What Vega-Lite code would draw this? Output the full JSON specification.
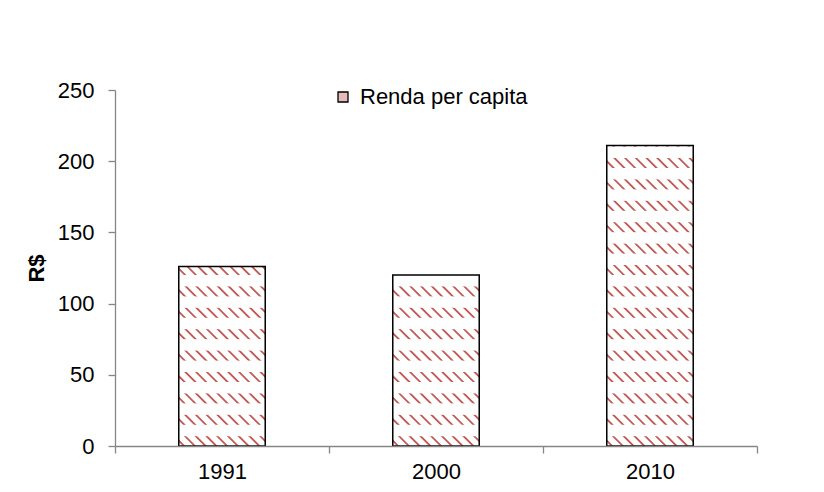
{
  "$schema": "https://vega.github.io/schema/vega-lite/v6.json",
  "width": 642,
  "height": 356,
  "autosize": {"type": "none"},
  "padding": {"left": 115, "top": 90, "right": 67, "bottom": 46},
  "background": "#ffffff",
  "config": {
    "view": {"stroke": null},
    "font": "Liberation Sans"
  },
  "data": {
    "values": [
      {"ano": "1991", "renda": 126},
      {"ano": "2000", "renda": 120},
      {"ano": "2010", "renda": 211}
    ]
  },
  "encoding": {
    "x": {
      "field": "ano",
      "type": "nominal",
      "sort": null,
      "scale": {"paddingInner": 0, "paddingOuter": 0},
      "axis": {
        "title": null,
        "labelAngle": 0,
        "tickBand": "extent",
        "labelFont": "Liberation Sans",
        "labelFontSize": 22,
        "labelColor": "#000000",
        "labelPadding": 8,
        "tickSize": 7,
        "tickColor": "#868686",
        "domainColor": "#868686",
        "tickWidth": 1.3,
        "domainWidth": 1.3,
        "zindex": 1
      }
    }
  },
  "layer": [
    {
      "mark": {"type": "bar", "width": {"band": 0.404}, "stroke": null},
      "encoding": {
        "y": {
          "field": "renda",
          "type": "quantitative",
          "scale": {"domain": [0, 250], "nice": false},
          "axis": {
            "title": "R$",
            "values": [0, 50, 100, 150, 200, 250],
            "grid": false,
            "labelFont": "Liberation Sans",
            "labelFontSize": 22,
            "labelColor": "#000000",
            "labelPadding": 14,
            "tickSize": 7,
            "tickColor": "#868686",
            "domainColor": "#868686",
            "tickWidth": 1.3,
            "domainWidth": 1.3,
            "titleFont": "Liberation Sans",
            "titleFontSize": 22,
            "titleFontWeight": "bold",
            "titleColor": "#000000",
            "titlePadding": 9,
            "zindex": 1
          }
        },
        "fill": {
          "datum": "Renda per capita",
          "type": "nominal",
          "scale": {"range": ["#e6bcbb"]},
          "legend": {
            "title": null,
            "orient": "none",
            "legendX": 217,
            "legendY": -4,
            "padding": 0,
            "symbolType": "square",
            "symbolSize": 100,
            "symbolStrokeColor": "#000000",
            "symbolStrokeWidth": 1.3,
            "symbolOpacity": 1,
            "labelFont": "Liberation Sans",
            "labelFontSize": 22,
            "labelColor": "#000000",
            "labelOffset": 6,
            "labelLimit": 400
          }
        }
      }
    },
    {
      "mark": {"type": "bar", "width": {"band": 0.404}, "fill": "#c25b58", "stroke": null},
      "encoding": {
        "y": {"field": "renda", "type": "quantitative"}
      }
    },
    {
      "mark": {
        "type": "bar",
        "width": {"band": 0.404},
        "stroke": null,
        "fill": {
          "gradient": "linear",
          "x1": 0, "y1": 1, "x2": 0.27712, "y2": -0.14053,
          "stops": [
            {"offset": 0.008, "color": "#ffffff"}, {"offset": 0.011, "color": "rgba(255,255,255,0)"}, {"offset": 0.014, "color": "rgba(255,255,255,0)"}, {"offset": 0.017, "color": "#ffffff"},
            {"offset": 0.033, "color": "#ffffff"}, {"offset": 0.036, "color": "rgba(255,255,255,0)"}, {"offset": 0.039, "color": "rgba(255,255,255,0)"}, {"offset": 0.042, "color": "#ffffff"},
            {"offset": 0.058, "color": "#ffffff"}, {"offset": 0.061, "color": "rgba(255,255,255,0)"}, {"offset": 0.064, "color": "rgba(255,255,255,0)"}, {"offset": 0.067, "color": "#ffffff"},
            {"offset": 0.083, "color": "#ffffff"}, {"offset": 0.086, "color": "rgba(255,255,255,0)"}, {"offset": 0.089, "color": "rgba(255,255,255,0)"}, {"offset": 0.092, "color": "#ffffff"},
            {"offset": 0.108, "color": "#ffffff"}, {"offset": 0.111, "color": "rgba(255,255,255,0)"}, {"offset": 0.114, "color": "rgba(255,255,255,0)"}, {"offset": 0.117, "color": "#ffffff"},
            {"offset": 0.133, "color": "#ffffff"}, {"offset": 0.136, "color": "rgba(255,255,255,0)"}, {"offset": 0.139, "color": "rgba(255,255,255,0)"}, {"offset": 0.142, "color": "#ffffff"},
            {"offset": 0.158, "color": "#ffffff"}, {"offset": 0.161, "color": "rgba(255,255,255,0)"}, {"offset": 0.164, "color": "rgba(255,255,255,0)"}, {"offset": 0.167, "color": "#ffffff"},
            {"offset": 0.183, "color": "#ffffff"}, {"offset": 0.186, "color": "rgba(255,255,255,0)"}, {"offset": 0.189, "color": "rgba(255,255,255,0)"}, {"offset": 0.192, "color": "#ffffff"},
            {"offset": 0.208, "color": "#ffffff"}, {"offset": 0.211, "color": "rgba(255,255,255,0)"}, {"offset": 0.214, "color": "rgba(255,255,255,0)"}, {"offset": 0.217, "color": "#ffffff"},
            {"offset": 0.233, "color": "#ffffff"}, {"offset": 0.236, "color": "rgba(255,255,255,0)"}, {"offset": 0.239, "color": "rgba(255,255,255,0)"}, {"offset": 0.242, "color": "#ffffff"},
            {"offset": 0.258, "color": "#ffffff"}, {"offset": 0.261, "color": "rgba(255,255,255,0)"}, {"offset": 0.264, "color": "rgba(255,255,255,0)"}, {"offset": 0.267, "color": "#ffffff"},
            {"offset": 0.283, "color": "#ffffff"}, {"offset": 0.286, "color": "rgba(255,255,255,0)"}, {"offset": 0.289, "color": "rgba(255,255,255,0)"}, {"offset": 0.292, "color": "#ffffff"},
            {"offset": 0.308, "color": "#ffffff"}, {"offset": 0.311, "color": "rgba(255,255,255,0)"}, {"offset": 0.314, "color": "rgba(255,255,255,0)"}, {"offset": 0.317, "color": "#ffffff"},
            {"offset": 0.333, "color": "#ffffff"}, {"offset": 0.336, "color": "rgba(255,255,255,0)"}, {"offset": 0.339, "color": "rgba(255,255,255,0)"}, {"offset": 0.342, "color": "#ffffff"},
            {"offset": 0.358, "color": "#ffffff"}, {"offset": 0.361, "color": "rgba(255,255,255,0)"}, {"offset": 0.364, "color": "rgba(255,255,255,0)"}, {"offset": 0.367, "color": "#ffffff"},
            {"offset": 0.383, "color": "#ffffff"}, {"offset": 0.386, "color": "rgba(255,255,255,0)"}, {"offset": 0.389, "color": "rgba(255,255,255,0)"}, {"offset": 0.392, "color": "#ffffff"},
            {"offset": 0.408, "color": "#ffffff"}, {"offset": 0.411, "color": "rgba(255,255,255,0)"}, {"offset": 0.414, "color": "rgba(255,255,255,0)"}, {"offset": 0.417, "color": "#ffffff"},
            {"offset": 0.433, "color": "#ffffff"}, {"offset": 0.436, "color": "rgba(255,255,255,0)"}, {"offset": 0.439, "color": "rgba(255,255,255,0)"}, {"offset": 0.442, "color": "#ffffff"},
            {"offset": 0.458, "color": "#ffffff"}, {"offset": 0.461, "color": "rgba(255,255,255,0)"}, {"offset": 0.464, "color": "rgba(255,255,255,0)"}, {"offset": 0.467, "color": "#ffffff"},
            {"offset": 0.483, "color": "#ffffff"}, {"offset": 0.486, "color": "rgba(255,255,255,0)"}, {"offset": 0.489, "color": "rgba(255,255,255,0)"}, {"offset": 0.492, "color": "#ffffff"},
            {"offset": 0.508, "color": "#ffffff"}, {"offset": 0.511, "color": "rgba(255,255,255,0)"}, {"offset": 0.514, "color": "rgba(255,255,255,0)"}, {"offset": 0.517, "color": "#ffffff"},
            {"offset": 0.533, "color": "#ffffff"}, {"offset": 0.536, "color": "rgba(255,255,255,0)"}, {"offset": 0.539, "color": "rgba(255,255,255,0)"}, {"offset": 0.542, "color": "#ffffff"},
            {"offset": 0.558, "color": "#ffffff"}, {"offset": 0.561, "color": "rgba(255,255,255,0)"}, {"offset": 0.564, "color": "rgba(255,255,255,0)"}, {"offset": 0.567, "color": "#ffffff"},
            {"offset": 0.583, "color": "#ffffff"}, {"offset": 0.586, "color": "rgba(255,255,255,0)"}, {"offset": 0.589, "color": "rgba(255,255,255,0)"}, {"offset": 0.592, "color": "#ffffff"},
            {"offset": 0.608, "color": "#ffffff"}, {"offset": 0.611, "color": "rgba(255,255,255,0)"}, {"offset": 0.614, "color": "rgba(255,255,255,0)"}, {"offset": 0.617, "color": "#ffffff"},
            {"offset": 0.633, "color": "#ffffff"}, {"offset": 0.636, "color": "rgba(255,255,255,0)"}, {"offset": 0.639, "color": "rgba(255,255,255,0)"}, {"offset": 0.642, "color": "#ffffff"},
            {"offset": 0.658, "color": "#ffffff"}, {"offset": 0.661, "color": "rgba(255,255,255,0)"}, {"offset": 0.664, "color": "rgba(255,255,255,0)"}, {"offset": 0.667, "color": "#ffffff"},
            {"offset": 0.683, "color": "#ffffff"}, {"offset": 0.686, "color": "rgba(255,255,255,0)"}, {"offset": 0.689, "color": "rgba(255,255,255,0)"}, {"offset": 0.692, "color": "#ffffff"},
            {"offset": 0.708, "color": "#ffffff"}, {"offset": 0.711, "color": "rgba(255,255,255,0)"}, {"offset": 0.714, "color": "rgba(255,255,255,0)"}, {"offset": 0.717, "color": "#ffffff"},
            {"offset": 0.733, "color": "#ffffff"}, {"offset": 0.736, "color": "rgba(255,255,255,0)"}, {"offset": 0.739, "color": "rgba(255,255,255,0)"}, {"offset": 0.742, "color": "#ffffff"},
            {"offset": 0.758, "color": "#ffffff"}, {"offset": 0.761, "color": "rgba(255,255,255,0)"}, {"offset": 0.764, "color": "rgba(255,255,255,0)"}, {"offset": 0.767, "color": "#ffffff"},
            {"offset": 0.783, "color": "#ffffff"}, {"offset": 0.786, "color": "rgba(255,255,255,0)"}, {"offset": 0.789, "color": "rgba(255,255,255,0)"}, {"offset": 0.792, "color": "#ffffff"},
            {"offset": 0.808, "color": "#ffffff"}, {"offset": 0.811, "color": "rgba(255,255,255,0)"}, {"offset": 0.814, "color": "rgba(255,255,255,0)"}, {"offset": 0.817, "color": "#ffffff"},
            {"offset": 0.833, "color": "#ffffff"}, {"offset": 0.836, "color": "rgba(255,255,255,0)"}, {"offset": 0.839, "color": "rgba(255,255,255,0)"}, {"offset": 0.842, "color": "#ffffff"},
            {"offset": 0.858, "color": "#ffffff"}, {"offset": 0.861, "color": "rgba(255,255,255,0)"}, {"offset": 0.864, "color": "rgba(255,255,255,0)"}, {"offset": 0.867, "color": "#ffffff"},
            {"offset": 0.883, "color": "#ffffff"}, {"offset": 0.886, "color": "rgba(255,255,255,0)"}, {"offset": 0.889, "color": "rgba(255,255,255,0)"}, {"offset": 0.892, "color": "#ffffff"},
            {"offset": 0.908, "color": "#ffffff"}, {"offset": 0.911, "color": "rgba(255,255,255,0)"}, {"offset": 0.914, "color": "rgba(255,255,255,0)"}, {"offset": 0.917, "color": "#ffffff"},
            {"offset": 0.933, "color": "#ffffff"}, {"offset": 0.936, "color": "rgba(255,255,255,0)"}, {"offset": 0.939, "color": "rgba(255,255,255,0)"}, {"offset": 0.942, "color": "#ffffff"},
            {"offset": 0.958, "color": "#ffffff"}, {"offset": 0.961, "color": "rgba(255,255,255,0)"}, {"offset": 0.964, "color": "rgba(255,255,255,0)"}, {"offset": 0.967, "color": "#ffffff"},
            {"offset": 0.983, "color": "#ffffff"}, {"offset": 0.986, "color": "rgba(255,255,255,0)"}, {"offset": 0.989, "color": "rgba(255,255,255,0)"}, {"offset": 0.992, "color": "#ffffff"}
          ]
        }
      },
      "encoding": {
        "y": {"datum": 250, "type": "quantitative"},
        "y2": {"datum": 0}
      }
    },
    {
      "mark": {
        "type": "bar",
        "width": {"band": 0.404},
        "stroke": null,
        "fill": {
          "gradient": "linear",
          "x1": 0, "y1": 0, "x2": 0, "y2": 1,
          "stops": [
            {"offset": 0.1295, "color": "#ffffff"}, {"offset": 0.1323, "color": "rgba(255,255,255,0)"}, {"offset": 0.1576, "color": "rgba(255,255,255,0)"}, {"offset": 0.1604, "color": "#ffffff"},
            {"offset": 0.1896, "color": "#ffffff"}, {"offset": 0.1924, "color": "rgba(255,255,255,0)"}, {"offset": 0.2177, "color": "rgba(255,255,255,0)"}, {"offset": 0.2205, "color": "#ffffff"},
            {"offset": 0.2497, "color": "#ffffff"}, {"offset": 0.2525, "color": "rgba(255,255,255,0)"}, {"offset": 0.2778, "color": "rgba(255,255,255,0)"}, {"offset": 0.2806, "color": "#ffffff"},
            {"offset": 0.3098, "color": "#ffffff"}, {"offset": 0.3126, "color": "rgba(255,255,255,0)"}, {"offset": 0.3379, "color": "rgba(255,255,255,0)"}, {"offset": 0.3407, "color": "#ffffff"},
            {"offset": 0.3699, "color": "#ffffff"}, {"offset": 0.3728, "color": "rgba(255,255,255,0)"}, {"offset": 0.3980, "color": "rgba(255,255,255,0)"}, {"offset": 0.4008, "color": "#ffffff"},
            {"offset": 0.4301, "color": "#ffffff"}, {"offset": 0.4329, "color": "rgba(255,255,255,0)"}, {"offset": 0.4581, "color": "rgba(255,255,255,0)"}, {"offset": 0.4610, "color": "#ffffff"},
            {"offset": 0.4902, "color": "#ffffff"}, {"offset": 0.4930, "color": "rgba(255,255,255,0)"}, {"offset": 0.5183, "color": "rgba(255,255,255,0)"}, {"offset": 0.5211, "color": "#ffffff"},
            {"offset": 0.5503, "color": "#ffffff"}, {"offset": 0.5531, "color": "rgba(255,255,255,0)"}, {"offset": 0.5784, "color": "rgba(255,255,255,0)"}, {"offset": 0.5812, "color": "#ffffff"},
            {"offset": 0.6104, "color": "#ffffff"}, {"offset": 0.6132, "color": "rgba(255,255,255,0)"}, {"offset": 0.6385, "color": "rgba(255,255,255,0)"}, {"offset": 0.6413, "color": "#ffffff"},
            {"offset": 0.6705, "color": "#ffffff"}, {"offset": 0.6733, "color": "rgba(255,255,255,0)"}, {"offset": 0.6986, "color": "rgba(255,255,255,0)"}, {"offset": 0.7014, "color": "#ffffff"},
            {"offset": 0.7306, "color": "#ffffff"}, {"offset": 0.7334, "color": "rgba(255,255,255,0)"}, {"offset": 0.7587, "color": "rgba(255,255,255,0)"}, {"offset": 0.7615, "color": "#ffffff"},
            {"offset": 0.7907, "color": "#ffffff"}, {"offset": 0.7935, "color": "rgba(255,255,255,0)"}, {"offset": 0.8188, "color": "rgba(255,255,255,0)"}, {"offset": 0.8216, "color": "#ffffff"},
            {"offset": 0.8508, "color": "#ffffff"}, {"offset": 0.8537, "color": "rgba(255,255,255,0)"}, {"offset": 0.8789, "color": "rgba(255,255,255,0)"}, {"offset": 0.8817, "color": "#ffffff"},
            {"offset": 0.9110, "color": "#ffffff"}, {"offset": 0.9138, "color": "rgba(255,255,255,0)"}, {"offset": 0.9390, "color": "rgba(255,255,255,0)"}, {"offset": 0.9419, "color": "#ffffff"},
            {"offset": 0.9711, "color": "#ffffff"}, {"offset": 0.9739, "color": "rgba(255,255,255,0)"}, {"offset": 0.9992, "color": "rgba(255,255,255,0)"}, {"offset": 1, "color": "#ffffff"}
          ]
        }
      },
      "encoding": {
        "y": {"datum": 250, "type": "quantitative"},
        "y2": {"datum": 0}
      }
    },
    {
      "mark": {"type": "bar", "width": {"band": 0.404}, "filled": false, "stroke": "#000000", "strokeWidth": 1.5},
      "encoding": {
        "y": {"field": "renda", "type": "quantitative"}
      }
    }
  ]
}
